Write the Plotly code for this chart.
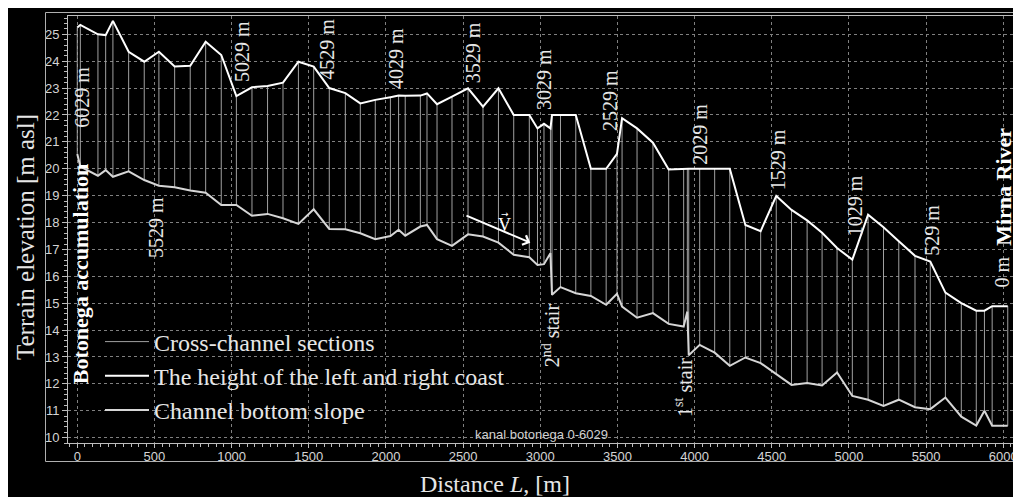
import plotly.graph_objects as go

# ---- data ----
dist = [0, 20, 134, 184, 231, 333, 434, 529, 631, 732, 832, 933, 1031, 1132, 1233, 1333,
        1433, 1532, 1633, 1737, 1834, 1931, 2029, 2082, 2125, 2223, 2266, 2331, 2428, 2532,
        2629, 2729, 2828, 2929, 2982, 3024, 3066, 3076, 3131, 3230, 3328, 3427, 3497, 3530,
        3627, 3730, 3832, 3929, 3953, 3962, 4033, 4130, 4228, 4329, 4428, 4529, 4628, 4729,
        4826, 4923, 5022, 5124, 5224, 5323, 5428, 5527, 5625, 5728, 5825, 5878, 5928, 6029]
coast_top = [25.25, 25.35, 25.0, 24.97, 25.5, 24.35, 23.98, 24.35, 23.8, 23.83, 24.72, 24.23,
             22.7, 23.03, 23.08, 23.2, 23.98, 23.8, 23.0, 22.81, 22.43, 22.56, 22.66, 22.72,
             22.71, 22.72, 22.8, 22.4, 22.68, 22.99, 22.31, 22.99, 22.0, 22.0, 21.5, 21.67,
             21.5, 22.0, 22.0, 22.0, 20.0, 20.0, 20.55, 21.88, 21.5, 20.97, 19.97, 20.0, 20.0,
             20.0, 20.0, 20.0, 20.0, 17.91, 17.68, 18.99, 18.47, 18.08, 17.62, 17.05, 16.62,
             18.29, 17.82, 17.3, 16.76, 16.55, 15.39, 15.0, 14.72, 14.72, 14.89, 14.89]
bottom = [20.55, 20.08, 19.74, 19.95, 19.7, 19.9, 19.58, 19.37, 19.31, 19.19, 19.11, 18.65,
          18.65, 18.25, 18.32, 18.16, 17.95, 18.49, 17.76, 17.75, 17.6, 17.38, 17.5, 17.73,
          17.51, 17.85, 17.91, 17.38, 17.13, 17.56, 17.48, 17.25, 16.8, 16.71, 16.42, 16.45,
          16.86, 15.31, 15.6, 15.37, 15.27, 14.94, 15.35, 14.87, 14.46, 14.63, 14.23, 14.13,
          14.69, 13.06, 13.45, 13.16, 12.67, 12.98, 12.77, 12.37, 11.96, 12.03, 11.94, 12.42,
          11.55, 11.41, 11.18, 11.41, 11.13, 11.06, 11.49, 10.78, 10.45, 11.0, 10.44, 10.44]

chainage_labels = ["6029 m", "5529 m", "5029 m", "4529 m", "4029 m", "3529 m", "3029 m",
                   "2529 m", "2029 m", "1529 m", "1029 m", "529 m", "0 m"]
chainage_x = [30, 510, 1067, 1616, 2065, 2565, 3024, 3452, 4035, 4537, 5036, 5536, 5990]
chainage_y = [22.67, 17.83, 24.38, 24.45, 24.12, 24.30, 23.34, 22.52, 21.26, 20.33, 18.62, 17.72, 16.17]

x_ticks = [0, 500, 1000, 1500, 2000, 2500, 3000, 3500, 4000, 4500, 5000, 5500, 6000]
y_ticks = list(range(10, 26))

# ---- geometry: the page keeps an 8 px margin on the left and top only ----
OFF = 8
W, H = 1005, 489
ML, MR, MT, MB = 60, 0, 8, 54
PW, PH = W - ML - MR, H - MT - MB


def px(page_x):
    return (page_x - OFF - ML) / PW


def py(page_y):
    return (H - MB - (page_y - OFF)) / PH


SERIF = "Liberation Serif, Times New Roman, serif"
SANS = "Liberation Sans, Arial, sans-serif"
TXT = "#e6e6e6"

sec_x, sec_y = [], []
for d, t, b in zip(dist, coast_top, bottom):
    sec_x += [d, d, None]
    sec_y += [b, t, None]

fig = go.Figure()
fig.add_trace(go.Scatter(x=sec_x, y=sec_y, mode="lines", name="Cross-channel sections",
                         line=dict(color="#a0a0a0", width=1), hoverinfo="skip"))
fig.add_trace(go.Scatter(x=dist, y=coast_top, mode="lines",
                         name="The height of the left and right coast",
                         line=dict(color="#ffffff", width=2)))
fig.add_trace(go.Scatter(x=dist, y=bottom, mode="lines", name="Channel bottom slope",
                         line=dict(color="#d6d6d6", width=2)))


def ann(**kw):
    base = dict(showarrow=False, xanchor="center", yanchor="middle")
    base.update(kw)
    return base


annotations = []
for txt, xx, yy in zip(chainage_labels, chainage_x, chainage_y):
    annotations.append(ann(x=xx, y=yy, xref="x", yref="y", text=txt, textangle=-90,
                           font=dict(family=SERIF, size=20, color=TXT)))
annotations += [
    ann(x=22, y=16.1, xref="x", yref="y", text="<b>Botonega accumulation</b>", textangle=-90,
        font=dict(family=SERIF, size=22, color="#ffffff")),
    ann(x=6005, y=19.33, xref="x", yref="y", text="<b>Mirna River</b>", textangle=-90,
        font=dict(family=SERIF, size=22, color="#ffffff")),
    ann(x=3066, y=13.82, xref="x", yref="y", text="2<sup>nd</sup> stair", textangle=-90,
        font=dict(family=SERIF, size=20, color=TXT)),
    ann(x=3925, y=11.85, xref="x", yref="y", text="1<sup>st</sup> stair", textangle=-90,
        font=dict(family=SERIF, size=20, color=TXT)),
    ann(x=3010, y=10.12, xref="x", yref="y", text="kanal botonega 0-6029",
        font=dict(family=SANS, size=13, color="#d0d0d0")),
    # flow vector
    dict(x=2935, y=17.25, ax=2512, ay=18.28, xref="x", yref="y", axref="x", ayref="y",
         text="", showarrow=True, arrowhead=4, arrowsize=1, arrowwidth=2, arrowcolor="#ffffff"),
    ann(x=2771, y=17.92, xref="x", yref="y", text="V",
        font=dict(family=SERIF, size=18, color="#ffffff")),
    ann(x=2773, y=18.33, xref="x", yref="y", text="\u2192",
        font=dict(family="DejaVu Sans", size=9, color="#ffffff")),
    # axis titles
    ann(x=px(25), y=py(237), xref="paper", yref="paper", text="Terrain elevation [m asl]",
        textangle=-90, font=dict(family=SERIF, size=25, color=TXT)),
    ann(x=px(495), y=py(484), xref="paper", yref="paper", text="Distance <i>L</i>, [m]",
        font=dict(family=SERIF, size=24, color=TXT)),
]

shapes = [
    # outer frame
    dict(type="rect", xref="paper", yref="paper", x0=px(45.5), x1=px(1020), y0=py(461.5), y1=py(12.5),
         line=dict(color="#b0b0b0", width=1), fillcolor="rgba(0,0,0,0)", layer="above"),
]

axis_common = dict(showgrid=True, gridcolor="#808080", griddash="dot", gridwidth=1,
                   showline=True, linecolor="#bdbdbd", linewidth=1,
                   ticks="outside", tickcolor="#bdbdbd", automargin=False,
                   tickfont=dict(family=SANS, size=13, color="#d4d4d4"), zeroline=False)

fig.update_layout(
    width=W, height=H,
    margin=dict(l=ML, r=MR, t=MT, b=MB, autoexpand=False),
    paper_bgcolor="#000000", plot_bgcolor="#000000",
    showlegend=True,
    legend=dict(x=px(100), y=py(376), xanchor="left", yanchor="middle",
                bgcolor="rgba(0,0,0,0)", itemwidth=44,
                font=dict(family=SERIF, size=24, color=TXT), tracegroupgap=0),
    annotations=annotations, shapes=shapes,
    xaxis=dict(range=[-60, 6063], tickvals=x_ticks, mirror=True, ticklen=4,
               ticklabelstandoff=-3, ticklabeloverflow="allow",
               minor=dict(dtick=50, ticklen=3, ticks="outside", tickcolor="#bdbdbd", showgrid=False),
               **axis_common),
    yaxis=dict(range=[9.80, 25.68], tickvals=y_ticks, ticklen=5,
               minor=dict(dtick=0.2, ticklen=3, ticks="outside", tickcolor="#bdbdbd", showgrid=False),
               **axis_common),
)

fig.write_html(
    "out.html",
    post_script="document.body.style.margin='8px 0px 0px 8px';"
                "document.documentElement.style.overflow='hidden';",
)
